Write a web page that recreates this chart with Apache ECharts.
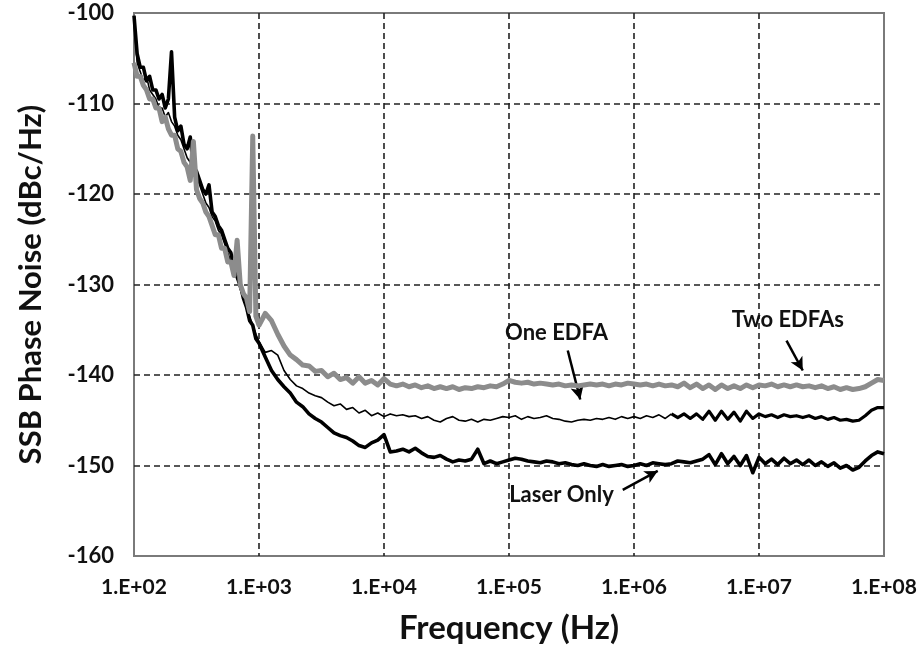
<!DOCTYPE html>
<html><head><meta charset="utf-8">
<script src="https://cdn.jsdelivr.net/npm/echarts@6/dist/echarts.min.js"></script>
<style>html,body{margin:0;padding:0;background:#fff}#c{width:922px;height:653px}</style>
</head><body><div id="c"></div>
<script>
// log10(frequency in Hz) sample grid
const expLow = [2.000,2.025,2.050,2.075,2.100,2.125,2.150,2.175,2.200,2.225,2.250,2.275,2.300,2.325,2.350,2.375,2.400,2.425,2.450,2.475,2.500,2.525,2.550,2.575,2.600,2.625,2.650,2.675,2.700,2.725,2.750,2.775,2.800,2.825,2.850,2.875,2.900,2.925,2.950,2.975,3.000];
const expHigh = [3.05,3.10,3.15,3.20,3.25,3.30,3.35,3.40,3.45,3.50,3.55,3.60,3.65,3.70,3.75,3.80,3.85,3.90,3.95,4.00,
4.05,4.10,4.15,4.20,4.25,4.30,4.35,4.40,4.45,4.50,4.55,4.60,4.65,4.70,4.75,4.80,4.85,4.90,4.95,5.00,
5.05,5.10,5.15,5.20,5.25,5.30,5.35,5.40,5.45,5.50,5.55,5.60,5.65,5.70,5.75,5.80,5.85,5.90,5.95,6.00,
6.05,6.10,6.15,6.20,6.25,6.30,6.35,6.40,6.45,6.50,6.55,6.60,6.65,6.70,6.75,6.80,6.85,6.90,6.95,7.00,
7.05,7.10,7.15,7.20,7.25,7.30,7.35,7.40,7.45,7.50,7.55,7.60,7.65,7.70,7.75,7.80,7.85,7.90,7.95,8.00];

// Two EDFAs (gray)
const twoLow = [-105.5,-107,-107,-108,-108.5,-109.5,-109.5,-110.5,-110.5,-112,-111.5,-112.8,-113.5,-113.5,-115,-115.3,-116.5,-117,-118.5,-114.2,-119.5,-120.5,-121,-122,-122.5,-123.5,-124.5,-124.5,-126,-126,-127.5,-127.5,-129,-125.1,-130,-131,-131.5,-133,-113.6,-133.5,-134.5];
const twoHigh = [-133.2,-134,-135.5,-136.8,-137.8,-138.3,-138.9,-139,-139.6,-139.5,
-140.2,-139.8,-140.5,-140.3,-140.9,-140.2,-140.9,-140.6,-141.1,-140.4,
-141,-141.2,-141,-141.3,-141.1,-141.4,-141.2,-141.5,-141.3,-141.5,
-141.3,-141.6,-141.4,-141.5,-141.3,-141.4,-141.2,-141.3,-141,-140.6,
-140.8,-140.9,-140.8,-141,-140.9,-141,-141.1,-141,-141.2,-141.1,
-141.2,-141.1,-141,-141.1,-141,-141.2,-141,-141.1,-140.9,-141,
-141.1,-141,-141.2,-141,-141.2,-141.1,-141.3,-140.9,-141.4,-141.0,
-141.5,-141.1,-141.6,-141.1,-141.5,-141.2,-141.5,-141.1,-141.4,-141.1,
-141.2,-141,-141.3,-141.1,-141.3,-141.1,-141.3,-141.2,-141.4,-141.2,
-141.5,-141.3,-141.6,-141.4,-141.6,-141.5,-141.3,-140.9,-140.5,-140.6];

// One EDFA (thin black)
const oneLow = [-101,-105.5,-106.5,-107.5,-107,-108.5,-109,-109.5,-110.5,-110.5,-111.5,-111,-112,-112.5,-113.5,-114,-115,-116,-116.5,-117.5,-118,-119,-120,-121,-121.5,-122.5,-123,-124,-124.5,-125.5,-126.5,-127.5,-128.5,-129.5,-130.5,-131.5,-132.5,-133.5,-134.5,-135.5,-136.3];
const oneHigh = [-137.5,-137.3,-137.8,-139.5,-140.5,-141.2,-141.5,-142,-142.3,-142.5,
-143,-143.4,-143.2,-143.8,-143.6,-144.2,-143.9,-144.5,-144.2,-144.6,
-144.3,-144.5,-144.4,-144.6,-144.5,-144.8,-144.6,-145,-145.2,-144.8,
-144.6,-145,-145.1,-144.9,-145.2,-144.9,-145,-144.8,-144.6,-144.7,
-144.5,-144.9,-144.6,-144.8,-144.7,-144.5,-144.8,-144.9,-145.1,-145.2,
-145,-144.9,-145,-144.8,-144.9,-144.7,-144.9,-144.6,-144.8,-144.6,
-144.8,-144.5,-144.7,-144.4,-144.8,-144.3,-144.7,-144.3,-144.8,-144.3,
-144.9,-144.0,-145.0,-144.0,-144.9,-144.1,-145.1,-144.0,-144.8,-144.3,
-144.6,-144.4,-144.7,-144.4,-144.6,-144.5,-144.7,-144.5,-144.8,-144.6,
-144.9,-144.7,-145.0,-144.9,-145.1,-145.0,-144.5,-143.9,-143.6,-143.6];

// Laser Only (thick black)
const laserLow = [-100.3,-104.5,-106,-106,-107.5,-107,-108.5,-108.5,-109.5,-109,-110.5,-109.5,-104.3,-111.5,-113,-112.5,-114.5,-115,-113.7,-117,-117.5,-118.5,-119.5,-120,-119,-122,-122.5,-123.5,-124,-125,-126,-126.5,-128,-129,-130,-131.5,-132.5,-134,-134.5,-136,-136.5];
const laserHigh = [-138,-139.5,-140.5,-141.3,-142,-143,-143.5,-144.3,-144.8,-145.2,
-145.8,-146.4,-146.7,-146.9,-147.3,-147.8,-148,-147.5,-147.2,-146.6,
-148.5,-148.4,-148.2,-148.5,-148.1,-148.6,-149,-149.1,-148.9,-149.3,
-149.6,-149.4,-149.5,-149.3,-148.2,-149.8,-149.5,-149.8,-149.6,-149.4,
-149.2,-149.3,-149.5,-149.6,-149.7,-149.5,-149.6,-149.8,-149.7,-149.9,
-150,-149.8,-150,-150.1,-149.9,-150.1,-150,-149.9,-150.1,-150,
-149.8,-150,-149.7,-149.8,-149.9,-149.8,-149.5,-149.6,-149.7,-149.5,
-149.3,-148.8,-149.9,-148.7,-149.8,-149.0,-150.0,-148.9,-150.8,-149.1,
-149.8,-149.3,-149.9,-149.2,-149.8,-149.4,-149.9,-149.4,-150.0,-149.6,
-150.1,-149.7,-150.3,-150.0,-150.5,-150.2,-149.5,-148.9,-148.5,-148.7];

const xTickExp = [2,3,4,5,6,7,8];
const yTicks = [-160,-150,-140,-130,-120,-110,-100];

// annotations: [label, log10 f, dB] and arrows [log10 f1, dB1, log10 f2, dB2]
const labels = [['One EDFA',5.38,-135.4],['Two EDFAs',7.23,-133.9],['Laser Only',5.42,-153.2]];
const arrows = [[5.47,-137.3,5.57,-142.7],[7.22,-136.2,7.35,-139.5],[5.91,-152.7,6.19,-150.6]];
// from this log10 f on the One EDFA trace is drawn as a broad noisy band
const oneThickFrom = 6.30;

const F = e => Math.pow(10, e);
const exps = expLow.concat(expHigh);
const mk = vals => exps.map((e,i)=>[F(e), vals[i]]);
const dTwo = mk(twoLow.concat(twoHigh));
const dOne = mk(oneLow.concat(oneHigh));
const dLaser = mk(laserLow.concat(laserHigh));
const cut = exps.findIndex(e => e >= oneThickFrom - 1e-9);

const FONT = 'Lato';
const chart = echarts.init(document.getElementById('c'), null, {renderer:'canvas'});
chart.setOption({
  animation:false,
  backgroundColor:'#fff',
  grid:{left:134,right:38,top:13,bottom:97,show:true,borderColor:'#7a7a7a',borderWidth:2,backgroundColor:'transparent'},
  xAxis:{type:'log',logBase:10,min:F(xTickExp[0]),max:F(xTickExp[xTickExp.length-1]),
    name:'Frequency (Hz)',nameLocation:'middle',nameGap:56,
    nameTextStyle:{fontFamily:FONT,fontWeight:'bold',fontSize:33,color:'#111'},
    axisLine:{show:false},axisTick:{show:false},
    axisLabel:{margin:21,fontFamily:FONT,fontWeight:'bold',fontSize:21,color:'#111',
      formatter:v=>'1.E+'+String(Math.round(Math.log10(v))).padStart(2,'0')},
    splitLine:{show:true,showMinLine:false,showMaxLine:false,lineStyle:{color:'#222',width:1.6,type:[6,4]}}},
  yAxis:{type:'value',min:yTicks[0],max:yTicks[yTicks.length-1],interval:10,
    name:'SSB Phase Noise (dBc/Hz)',nameLocation:'middle',nameGap:88,
    nameTextStyle:{fontFamily:FONT,fontWeight:'bold',fontSize:31,color:'#111'},
    axisLine:{show:false},axisTick:{show:false},
    axisLabel:{margin:20,fontFamily:FONT,fontWeight:'bold',fontSize:22,color:'#111'},
    splitLine:{show:true,showMinLine:false,showMaxLine:false,lineStyle:{color:'#222',width:1.6,type:[6,4]}}},
  series:[
    {name:'Laser Only',type:'line',data:dLaser,symbol:'none',lineStyle:{color:'#000',width:3.6,join:'round'},z:3},
    {name:'One EDFA',type:'line',data:dOne.slice(0,cut+1),symbol:'none',lineStyle:{color:'#000',width:1.6,join:'round'},z:4},
    {name:'One EDFA',type:'line',data:dOne.slice(cut),symbol:'none',lineStyle:{color:'#000',width:3.2,join:'round'},z:4},
    {name:'Two EDFAs',type:'line',data:dTwo,symbol:'none',lineStyle:{color:'#8c8c8c',width:5,join:'round'},z:5,
      markLine:{silent:true,symbol:['none','arrow'],symbolSize:[10,13],
        lineStyle:{color:'#000',width:2.5,type:'solid'},label:{show:false},
        data:arrows.map(a=>[{coord:[F(a[0]),a[1]]},{coord:[F(a[2]),a[3]]}])},
      markPoint:{silent:true,symbol:'rect',symbolSize:1,itemStyle:{color:'rgba(0,0,0,0)'},
        label:{show:true,position:'inside',formatter:'{b}',fontFamily:FONT,fontWeight:'bold',fontSize:22,color:'#111'},
        data:labels.map(l=>({name:l[0],coord:[F(l[1]),l[2]]}))}
    }
  ]
});
</script></body></html>
